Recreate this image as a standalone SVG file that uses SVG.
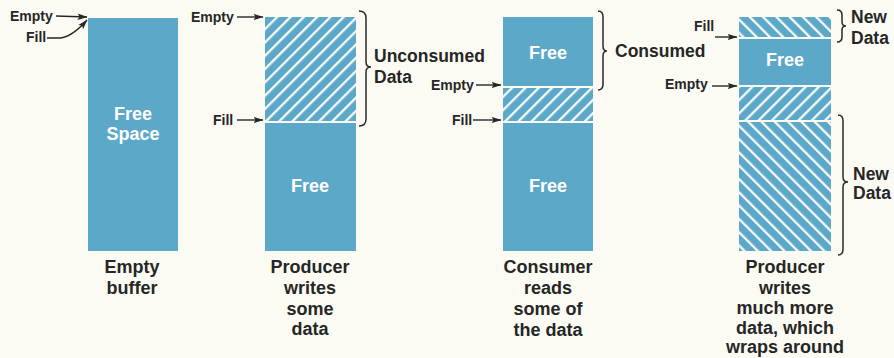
<svg xmlns="http://www.w3.org/2000/svg" width="894" height="358" viewBox="0 0 894 358">
  <style>
    .buf { fill: #5ca8c8; }
    .lbl { font-family: "Liberation Sans", Arial, sans-serif; font-weight: bold; fill: #262626; }
    .small { font-size: 14px; }
    .big { font-size: 17.5px; }
    .cap { font-size: 18px; text-anchor: middle; }
    .inner { font-family: "Liberation Sans", Arial, sans-serif; font-weight: bold; font-size: 18px; fill: #ffffff; text-anchor: middle; }
    .ptr { stroke: #262626; stroke-width: 1.4; fill: none; marker-end: url(#head); }
    .brace { stroke: #2a2a2a; stroke-width: 1.5; fill: none; }
  </style>
  <defs>
    <!-- white stripes on blue: "/" and "\" directions -->
    <pattern id="hatchFwd" patternUnits="userSpaceOnUse" width="9.4" height="9.4" patternTransform="rotate(45)">
      <rect width="9.4" height="9.4" fill="#5ca8c8"/>
      <line x1="1.2" y1="0" x2="1.2" y2="9.4" stroke="#ffffff" stroke-width="2.2"/>
    </pattern>
    <pattern id="hatchBack" patternUnits="userSpaceOnUse" width="9.4" height="9.4" patternTransform="rotate(-45)">
      <rect width="9.4" height="9.4" fill="#5ca8c8"/>
      <line x1="1.2" y1="0" x2="1.2" y2="9.4" stroke="#ffffff" stroke-width="2.2"/>
    </pattern>
    <marker id="head" markerWidth="10" markerHeight="8" refX="9.5" refY="4" orient="auto" markerUnits="userSpaceOnUse">
      <path d="M0,0.8 L10,4 L0,7.2 L2,4 Z" fill="#262626"/>
    </marker>
  </defs>

  <rect width="894" height="358" fill="#fbfbf4"/>

  <!-- Buffer 1: empty buffer -->
  <g id="buffer-empty">
    <rect class="buf" x="88" y="18" width="90" height="233"/>
    <text class="inner" x="133" y="120">Free</text>
    <text class="inner" x="133" y="140">Space</text>
    <text class="lbl small" x="10" y="21">Empty</text>
    <text class="lbl small" x="26" y="42">Fill</text>
    <text class="lbl cap" x="132" y="273">Empty</text>
    <text class="lbl cap" x="132" y="294">buffer</text>
  </g>

  <!-- Buffer 2: producer writes some data -->
  <g id="buffer-write">
    <rect x="265" y="17" width="91" height="104" fill="url(#hatchFwd)"/>
    <rect class="buf" x="265" y="123" width="91" height="128"/>
    <text class="inner" x="310" y="192">Free</text>
    <text class="lbl small" x="191" y="22">Empty</text>
    <text class="lbl small" x="213" y="125">Fill</text>
    <text class="lbl big" x="374" y="62">Unconsumed</text>
    <text class="lbl big" x="374" y="83">Data</text>
    <text class="lbl cap" x="310" y="273">Producer</text>
    <text class="lbl cap" x="310" y="294">writes</text>
    <text class="lbl cap" x="310" y="315">some</text>
    <text class="lbl cap" x="310" y="335">data</text>
  </g>

  <!-- Buffer 3: consumer reads some of the data -->
  <g id="buffer-read">
    <rect class="buf" x="503" y="17" width="90" height="69"/>
    <rect x="503" y="88" width="90" height="33" fill="url(#hatchFwd)"/>
    <rect class="buf" x="503" y="123" width="90" height="128"/>
    <text class="inner" x="548" y="59">Free</text>
    <text class="inner" x="548" y="192">Free</text>
    <text class="lbl small" x="431" y="90">Empty</text>
    <text class="lbl small" x="452" y="125">Fill</text>
    <text class="lbl big" x="615" y="57">Consumed</text>
    <text class="lbl cap" x="548" y="273">Consumer</text>
    <text class="lbl cap" x="548" y="294">reads</text>
    <text class="lbl cap" x="548" y="315">some of</text>
    <text class="lbl cap" x="548" y="336">the data</text>
  </g>

  <!-- Buffer 4: producer writes more data, wrapping around -->
  <g id="buffer-wrap">
    <rect x="739" y="17" width="92" height="20" fill="url(#hatchBack)"/>
    <rect class="buf" x="739" y="39" width="92" height="46"/>
    <rect x="739" y="87" width="92" height="33" fill="url(#hatchFwd)"/>
    <rect x="739" y="122" width="92" height="129" fill="url(#hatchBack)"/>
    <text class="inner" x="785" y="66">Free</text>
    <text class="lbl small" x="694" y="31">Fill</text>
    <text class="lbl small" x="665" y="89">Empty</text>
    <text class="lbl big" x="851" y="23">New</text>
    <text class="lbl big" x="851" y="44">Data</text>
    <text class="lbl big" x="853" y="180">New</text>
    <text class="lbl big" x="853" y="199">Data</text>
    <text class="lbl cap" x="785" y="273">Producer</text>
    <text class="lbl cap" x="785" y="294">writes</text>
    <text class="lbl cap" x="785" y="314">much more</text>
    <text class="lbl cap" x="785" y="334">data, which</text>
    <text class="lbl cap" x="785" y="353">wraps around</text>
  </g>

  <!-- Pointers and braces -->
  <g id="connectors">
    <path class="ptr" d="M56,16 L87,17"/>
    <path class="ptr" d="M47,38 L60,38 Q72,37 87,20"/>
    <path class="ptr" d="M237,17 L263,17"/>
    <path class="ptr" d="M237,120 L263,120"/>
    <path class="ptr" d="M476,85 L501,85"/>
    <path class="ptr" d="M473,120 L501,120"/>
    <path class="ptr" d="M715,37 L737,37"/>
    <path class="ptr" d="M712,86 L737,86"/>

    <path class="brace" d="M359,11 Q366,11 366,18 L366,62 Q366,67 371,67 Q366,67 366,72 L366,119 Q366,126 359,126"/>
    <path class="brace" d="M598,11 Q603,11 603,17 L603,46 Q603,51 607,51 Q603,51 603,56 L603,84 Q603,90 598,90"/>
    <path class="brace" d="M837,10 Q842,10 842,15 L842,22 Q842,26 846,26 Q842,26 842,30 L842,37 Q842,42 837,42"/>
    <path class="brace" d="M838,115 Q843,115 843,121 L843,177 Q843,182 848,182 Q843,182 843,187 L843,249 Q843,255 838,255"/>
  </g>
</svg>
